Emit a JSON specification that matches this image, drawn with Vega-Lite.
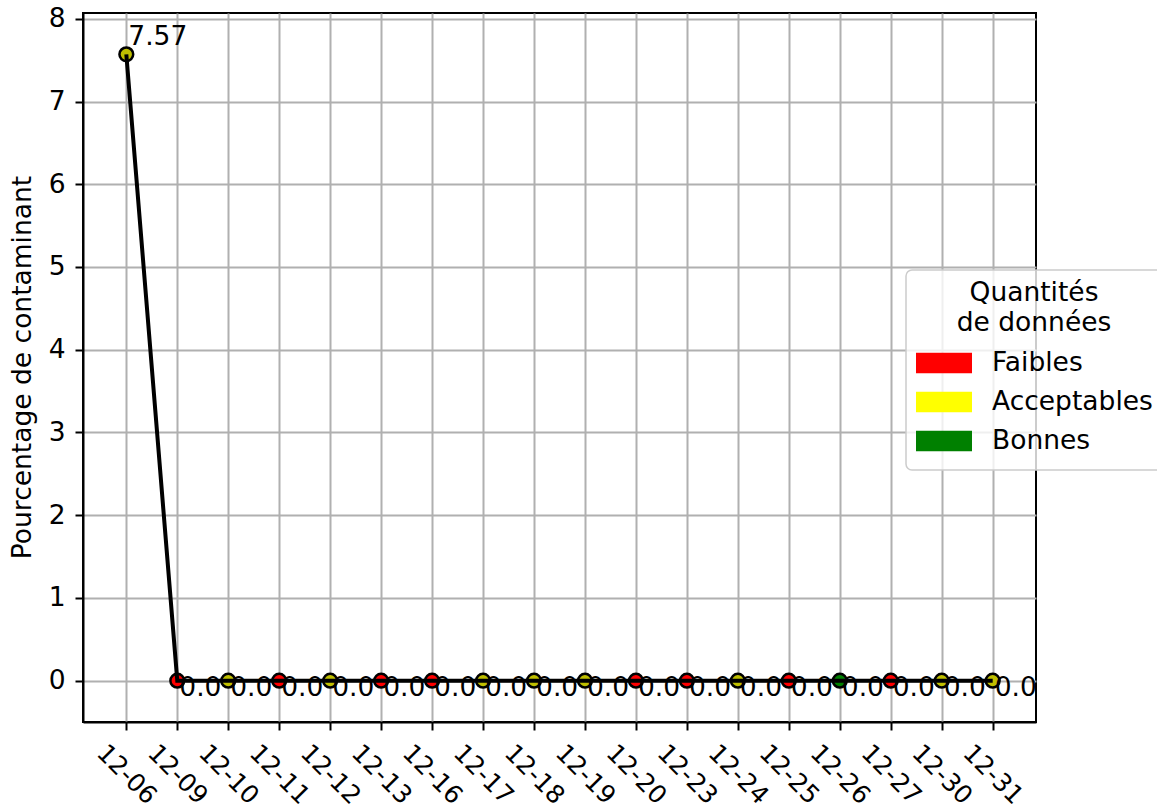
{
  "$schema": "https://vega.github.io/schema/vega-lite/v6.json",
  "width": 953,
  "height": 709,
  "autosize": {"type": "none"},
  "padding": {"left": 83, "top": 13, "right": 121, "bottom": 89},
  "background": "white",
  "config": {
    "font": "DejaVu Sans",
    "view": {"stroke": "black", "strokeWidth": 2},
    "axis": {
      "labelFont": "DejaVu Sans", "labelFontSize": 26.5, "labelColor": "black",
      "titleFont": "DejaVu Sans", "titleFontSize": 26.5, "titleFontWeight": "normal", "titleColor": "black",
      "domainColor": "black", "domainWidth": 2, "tickColor": "black", "tickWidth": 2, "tickSize": 8,
      "gridColor": "#b0b0b0", "gridWidth": 2, "gridOpacity": 1
    },
    "legend": {
      "labelFont": "DejaVu Sans", "labelFontSize": 26.5, "labelColor": "black", "labelLimit": 0,
      "titleFont": "DejaVu Sans", "titleFontSize": 26.5, "titleFontWeight": "normal", "titleColor": "black", "titleLimit": 0,
      "titleAnchor": "middle", "titleAlign": "center", "titleLineHeight": 30,
      "padding": 10, "fillColor": "rgba(255,255,255,0.8)", "strokeColor": "#cccccc", "cornerRadius": 6, "strokeWidth": 1.5
    }
  },
  "data": {
    "values": [
      {"date": "12-06", "pct": 7.57, "qualite": "Acceptables"},
      {"date": "12-09", "pct": 0, "qualite": "Faibles"},
      {"date": "12-10", "pct": 0, "qualite": "Acceptables"},
      {"date": "12-11", "pct": 0, "qualite": "Faibles"},
      {"date": "12-12", "pct": 0, "qualite": "Acceptables"},
      {"date": "12-13", "pct": 0, "qualite": "Faibles"},
      {"date": "12-16", "pct": 0, "qualite": "Faibles"},
      {"date": "12-17", "pct": 0, "qualite": "Acceptables"},
      {"date": "12-18", "pct": 0, "qualite": "Acceptables"},
      {"date": "12-19", "pct": 0, "qualite": "Acceptables"},
      {"date": "12-20", "pct": 0, "qualite": "Faibles"},
      {"date": "12-23", "pct": 0, "qualite": "Faibles"},
      {"date": "12-24", "pct": 0, "qualite": "Acceptables"},
      {"date": "12-25", "pct": 0, "qualite": "Faibles"},
      {"date": "12-26", "pct": 0, "qualite": "Bonnes"},
      {"date": "12-27", "pct": 0, "qualite": "Faibles"},
      {"date": "12-30", "pct": 0, "qualite": "Acceptables"},
      {"date": "12-31", "pct": 0, "qualite": "Acceptables"}
    ]
  },
  "encoding": {
    "x": {
      "field": "date", "type": "ordinal",
      "scale": {"type": "point", "padding": 0.85},
      "axis": {"title": null, "labelFontSize": 25, "labelAngle": 45, "labelAlign": "center", "labelBaseline": "middle", "labelPadding": 44, "labelOverlap": false, "grid": true}
    },
    "y": {
      "field": "pct", "type": "quantitative",
      "scale": {"domain": [-0.5, 8.07], "nice": false, "zero": false},
      "axis": {"title": "Pourcentage de contaminant", "values": [0, 1, 2, 3, 4, 5, 6, 7, 8], "labelPadding": 10, "titleX": -61, "titleY": 354, "titleAngle": -90, "titleAlign": "center", "titleBaseline": "middle", "grid": true}
    }
  },
  "layer": [
    {
      "mark": {"type": "point", "filled": true, "opacity": 0},
      "encoding": {
        "color": {
          "field": "qualite", "type": "nominal",
          "scale": {"domain": ["Faibles", "Acceptables", "Bonnes"], "range": ["#ff0000", "#ffff00", "#008000"]},
          "legend": {
            "title": ["Quantités", "de données"],
            "orient": "none", "legendX": 823, "legendY": 257,
            "symbolType": "M-1,-0.37H1V0.37H-1Z", "symbolSize": 3136, "symbolOpacity": 1, "symbolStrokeWidth": 0,
            "clipHeight": 37, "rowPadding": 2, "labelOffset": 20, "titlePadding": 8
          }
        }
      }
    },
    {
      "mark": {"type": "point", "filled": true, "size": 190, "stroke": "black", "strokeWidth": 2.5, "opacity": 1},
      "encoding": {
        "color": {
          "field": "qualite", "type": "nominal",
          "scale": {"domain": ["Faibles", "Acceptables", "Bonnes"], "range": ["#ff0000", "#bfbf00", "#008000"]},
          "legend": null
        }
      }
    },
    {
      "mark": {"type": "line", "color": "black", "strokeWidth": 4},
      "encoding": {}
    },
    {
      "transform": [{"filter": "datum.pct > 0"}],
      "mark": {"type": "text", "align": "left", "baseline": "alphabetic", "dx": 2, "dy": -9, "fontSize": 26.5, "color": "black"},
      "encoding": {"text": {"field": "pct", "type": "quantitative", "format": ".2f"}}
    },
    {
      "transform": [{"filter": "datum.pct == 0"}],
      "mark": {"type": "text", "align": "left", "baseline": "alphabetic", "dx": 2, "dy": 15, "fontSize": 26.5, "color": "black"},
      "encoding": {"text": {"field": "pct", "type": "quantitative", "format": ".1f"}}
    }
  ],
  "resolve": {"scale": {"color": "independent"}}
}
